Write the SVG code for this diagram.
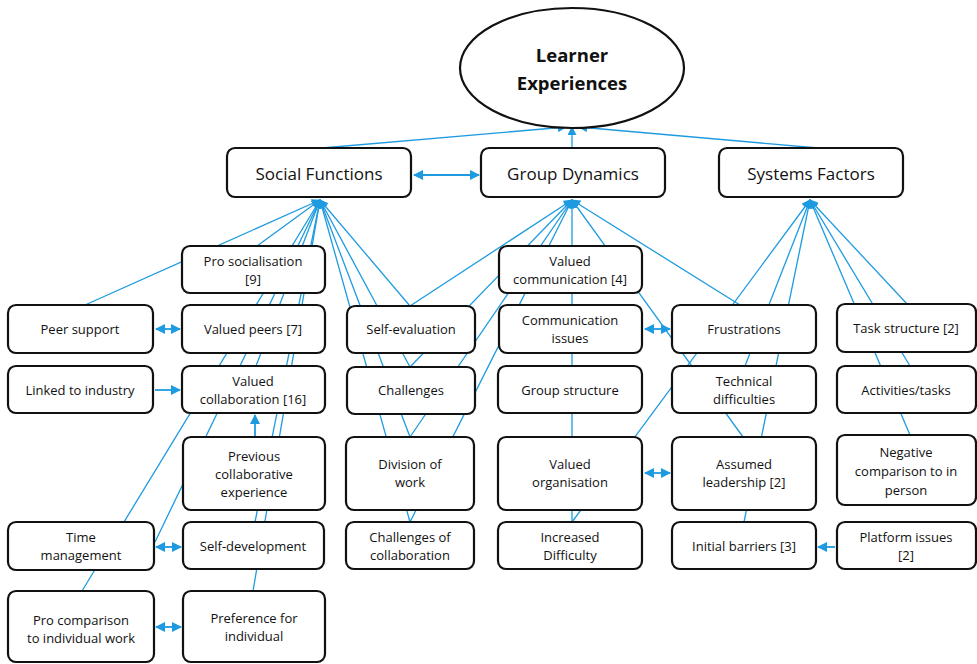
<svg xmlns="http://www.w3.org/2000/svg" width="977" height="664" viewBox="0 0 977 664">
<defs>
<marker id="ah" viewBox="0 0 10 10" refX="9" refY="5" markerWidth="9" markerHeight="9" markerUnits="userSpaceOnUse" orient="auto-start-reverse">
<path d="M0,0 L10,5 L0,10 z" fill="#1e9be0"/>
</marker>
<marker id="ah2" viewBox="0 0 10 10" refX="9" refY="5" markerWidth="10" markerHeight="10" markerUnits="userSpaceOnUse" orient="auto-start-reverse">
<path d="M0,0 L10,5 L0,10 z" fill="#1e9be0"/>
</marker>
</defs>
<style>
.box{fill:#fff;stroke:#111;stroke-width:2.2}
.t{font-family:"Open Sans","Noto Sans","DejaVu Sans",sans-serif;font-size:13px;fill:#111;text-anchor:middle}
.t1{font-family:"Open Sans","Noto Sans","DejaVu Sans",sans-serif;font-size:17px;fill:#111;text-anchor:middle}
.tb{font-family:"Open Sans","Noto Sans","DejaVu Sans",sans-serif;font-size:18.5px;font-weight:bold;fill:#111;text-anchor:middle}
.c{stroke:#1e9be0;stroke-width:1.3;fill:none}
.ca{stroke:#1e9be0;stroke-width:1.3;fill:none;marker-end:url(#ah)}
.cd{stroke:#1e9be0;stroke-width:1.8;fill:none;marker-start:url(#ah2);marker-end:url(#ah2)}
.cs{stroke:#1e9be0;stroke-width:1.8;fill:none;marker-end:url(#ah2)}
</style>
<rect width="977" height="664" fill="#fff"/>
<g id="connectors">
<line class="ca" x1="85" y1="305" x2="320" y2="200"/>
<line class="ca" x1="257" y1="246" x2="320" y2="200"/>
<line class="ca" x1="82" y1="591" x2="320" y2="200"/>
<line class="ca" x1="155" y1="542" x2="320" y2="200"/>
<line class="ca" x1="256" y1="366" x2="320" y2="200"/>
<line class="ca" x1="255" y1="522" x2="320" y2="200"/>
<line class="ca" x1="253" y1="591" x2="320" y2="200"/>
<line class="ca" x1="410" y1="306" x2="320" y2="200"/>
<line class="ca" x1="410" y1="367" x2="320" y2="200"/>
<line class="ca" x1="410" y1="437" x2="320" y2="200"/>
<line class="ca" x1="410" y1="522" x2="320" y2="200"/>
<line class="ca" x1="410" y1="306" x2="572" y2="200"/>
<line class="ca" x1="410" y1="367" x2="572" y2="200"/>
<line class="ca" x1="410" y1="437" x2="572" y2="200"/>
<line class="ca" x1="410" y1="522" x2="572" y2="200"/>
<line class="ca" x1="572" y1="522" x2="572" y2="200"/>
<line class="ca" x1="743" y1="437" x2="572" y2="200"/>
<line class="ca" x1="740" y1="305" x2="572" y2="200"/>
<line class="ca" x1="572" y1="522" x2="810" y2="200"/>
<line class="ca" x1="745" y1="366" x2="810" y2="200"/>
<line class="ca" x1="744" y1="522" x2="810" y2="200"/>
<line class="ca" x1="908" y1="305" x2="810" y2="200"/>
<line class="ca" x1="910" y1="366" x2="810" y2="200"/>
<line class="ca" x1="910" y1="435" x2="810" y2="200"/>
<line class="ca" x1="322" y1="148" x2="566" y2="127"/>
<line class="ca" x1="572" y1="148" x2="572" y2="127"/>
<line class="ca" x1="818" y1="148" x2="579" y2="127"/>
<line class="cd" x1="414" y1="175" x2="479" y2="175"/>
<line class="cd" x1="156" y1="329" x2="180" y2="329"/>
<line class="cs" x1="155" y1="390" x2="180" y2="390"/>
<line class="cd" x1="156" y1="547" x2="181" y2="547"/>
<line class="cd" x1="156" y1="627" x2="181" y2="627"/>
<line class="cs" x1="255" y1="437" x2="255" y2="415"/>
<line class="cd" x1="645" y1="329" x2="670" y2="329"/>
<line class="cd" x1="645" y1="473" x2="670" y2="473"/>
<line class="cs" x1="835" y1="547" x2="818" y2="547"/>
</g>
<g id="learner"><ellipse cx="572" cy="68" rx="112" ry="60" fill="#fff" stroke="#111" stroke-width="2.2"/><text class="tb" x="572" y="62">Learner</text><text class="tb" x="572" y="90">Experiences</text></g>
<g id="social"><rect class="box" x="227" y="148" width="184" height="49" rx="8"/><text class="t1" x="319" y="180">Social Functions</text></g>
<g id="group"><rect class="box" x="481" y="148" width="184" height="49" rx="8"/><text class="t1" x="573" y="180">Group Dynamics</text></g>
<g id="systems"><rect class="box" x="719" y="148" width="184" height="49" rx="8"/><text class="t1" x="811" y="180">Systems Factors</text></g>
<g id="prosoc"><rect class="box" x="182" y="246" width="143" height="47" rx="8"/><text class="t" x="253" y="266">Pro socialisation</text><text class="t" x="253" y="284">[9]</text></g>
<g id="peers"><rect class="box" x="182" y="305" width="143" height="48" rx="8"/><text class="t" x="253" y="334">Valued peers [7]</text></g>
<g id="valcollab"><rect class="box" x="182" y="366" width="143" height="47" rx="8"/><text class="t" x="253" y="386">Valued</text><text class="t" x="253" y="404">collaboration [16]</text></g>
<g id="prevcollab"><rect class="box" x="183" y="437" width="142" height="73" rx="8"/><text class="t" x="254" y="461">Previous</text><text class="t" x="254" y="479">collaborative</text><text class="t" x="254" y="497">experience</text></g>
<g id="selfdev"><rect class="box" x="183" y="522" width="141" height="47" rx="8"/><text class="t" x="253" y="551">Self-development</text></g>
<g id="pref"><rect class="box" x="183" y="591" width="142" height="71" rx="8"/><text class="t" x="254" y="623">Preference for</text><text class="t" x="254" y="641">individual</text></g>
<g id="peersupport"><rect class="box" x="8" y="305" width="145" height="48" rx="8"/><text class="t" x="80" y="334">Peer support</text></g>
<g id="industry"><rect class="box" x="8" y="366" width="145" height="47" rx="8"/><text class="t" x="80" y="395">Linked to industry</text></g>
<g id="time"><rect class="box" x="8" y="522" width="146" height="48" rx="8"/><text class="t" x="81" y="542">Time</text><text class="t" x="81" y="560">management</text></g>
<g id="procomp"><rect class="box" x="8" y="591" width="146" height="71" rx="8"/><text class="t" x="81" y="625">Pro comparison</text><text class="t" x="81" y="643">to individual work</text></g>
<g id="selfeval"><rect class="box" x="347" y="306" width="128" height="47" rx="8"/><text class="t" x="411" y="334">Self-evaluation</text></g>
<g id="challenges"><rect class="box" x="347" y="367" width="128" height="47" rx="8"/><text class="t" x="411" y="395">Challenges</text></g>
<g id="division"><rect class="box" x="346" y="437" width="128" height="73" rx="8"/><text class="t" x="410" y="469">Division of</text><text class="t" x="410" y="487">work</text></g>
<g id="chcollab"><rect class="box" x="346" y="522" width="128" height="47" rx="8"/><text class="t" x="410" y="542">Challenges of</text><text class="t" x="410" y="560">collaboration</text></g>
<g id="valcomm"><rect class="box" x="499" y="246" width="143" height="47" rx="8"/><text class="t" x="570" y="266">Valued</text><text class="t" x="570" y="284">communication [4]</text></g>
<g id="commissues"><rect class="box" x="499" y="305" width="143" height="48" rx="8"/><text class="t" x="570" y="325">Communication</text><text class="t" x="570" y="343">issues</text></g>
<g id="groupstruct"><rect class="box" x="498" y="366" width="144" height="47" rx="8"/><text class="t" x="570" y="395">Group structure</text></g>
<g id="valorg"><rect class="box" x="498" y="437" width="144" height="73" rx="8"/><text class="t" x="570" y="469">Valued</text><text class="t" x="570" y="487">organisation</text></g>
<g id="incdiff"><rect class="box" x="498" y="522" width="144" height="47" rx="8"/><text class="t" x="570" y="542">Increased</text><text class="t" x="570" y="560">Difficulty</text></g>
<g id="frustrations"><rect class="box" x="672" y="305" width="144" height="48" rx="8"/><text class="t" x="744" y="334">Frustrations</text></g>
<g id="techdiff"><rect class="box" x="672" y="366" width="144" height="47" rx="8"/><text class="t" x="744" y="386">Technical</text><text class="t" x="744" y="404">difficulties</text></g>
<g id="assumed"><rect class="box" x="672" y="437" width="144" height="73" rx="8"/><text class="t" x="744" y="469">Assumed</text><text class="t" x="744" y="487">leadership [2]</text></g>
<g id="initial"><rect class="box" x="672" y="522" width="144" height="47" rx="8"/><text class="t" x="744" y="551">Initial barriers [3]</text></g>
<g id="task"><rect class="box" x="837" y="304" width="139" height="48" rx="8"/><text class="t" x="906" y="333">Task structure [2]</text></g>
<g id="activities"><rect class="box" x="837" y="366" width="139" height="47" rx="8"/><text class="t" x="906" y="395">Activities/tasks</text></g>
<g id="negcomp"><rect class="box" x="837" y="435" width="139" height="70" rx="8"/><text class="t" x="906" y="457">Negative</text><text class="t" x="906" y="476">comparison to in</text><text class="t" x="906" y="495">person</text></g>
<g id="platform"><rect class="box" x="837" y="522" width="139" height="47" rx="8"/><text class="t" x="906" y="542">Platform issues</text><text class="t" x="906" y="560">[2]</text></g>
</svg>
